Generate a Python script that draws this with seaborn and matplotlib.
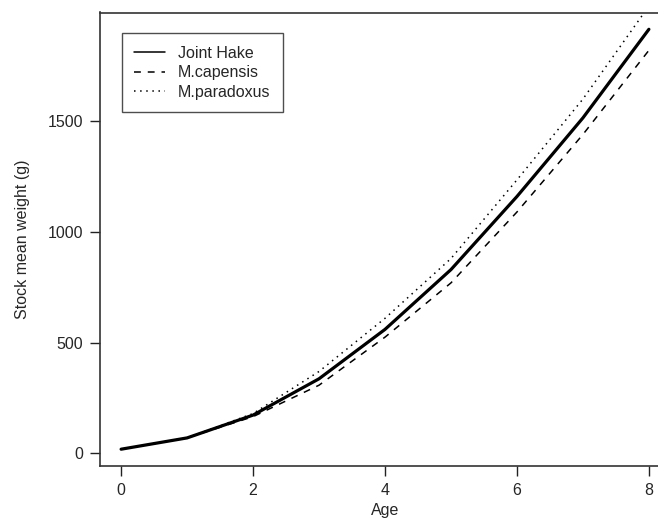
import numpy as np
import pandas as pd
import matplotlib
matplotlib.use("Agg")
import matplotlib.pyplot as plt
from matplotlib.lines import Line2D
import seaborn as sns

# values
ages = [0, 1, 2, 3, 4, 5, 6, 7, 8]
joint_hake = [19, 70, 173, 337, 560, 830, 1160, 1515, 1915]
m_capensis = [19, 70, 166, 308, 525, 770, 1090, 1440, 1820]
m_paradoxus = [19, 70, 180, 370, 610, 880, 1235, 1600, 2020]
series_names = ["Joint Hake", "M.capensis", "M.paradoxus"]

sns.set_theme(style="white")
plt.rcParams["font.family"] = ["Liberation Sans", "DejaVu Sans"]

df = pd.DataFrame({
    "Age": ages * 3,
    "weight": joint_hake + m_capensis + m_paradoxus,
    "series": np.repeat(series_names, len(ages)),
})

fig = plt.figure(figsize=(6.58, 5.22), dpi=100)
# R-style plot region; the right edge of the box falls just outside the picture
ax = fig.add_axes([100 / 658, 1 - 466 / 522, 570 / 658, 453.5 / 522])

styles = {
    "Joint Hake": dict(lw=2.3, ls="-"),
    "M.capensis": dict(lw=1.1, ls=(0, (4.5, 4.5))),
    "M.paradoxus": dict(lw=1.1, ls=(0, (1, 3))),
}
for name in series_names:
    sub = df[df["series"] == name]
    sns.lineplot(data=sub, x="Age", y="weight", ax=ax, color="black",
                 linewidth=styles[name]["lw"], linestyle=styles[name]["ls"],
                 legend=False)

# R default axis extension (4%), y range taken from the first series
xr = max(ages) - min(ages)
ax.set_xlim(min(ages) - 0.04 * xr, max(ages) + 0.04 * xr)
yr = max(joint_hake) - min(joint_hake)
ax.set_ylim(min(joint_hake) - 0.04 * yr, max(joint_hake) + 0.04 * yr)

ax.set_xticks([0, 2, 4, 6, 8])
ax.set_yticks([0, 500, 1000, 1500])
ax.tick_params(axis="both", direction="out", length=7, width=1, color="#222222",
               labelsize=11.5, pad=5, left=True, bottom=True)
for s in ax.spines.values():
    s.set_color("#333333")
    s.set_linewidth(1.2)

ax.set_xlabel("Age", fontsize=11.5, labelpad=4)
ax.set_ylabel("Stock mean weight (g)", fontsize=11.5, labelpad=13)

handles = [Line2D([0], [0], color="black", lw=1.1, ls=styles[n]["ls"]) for n in series_names]
leg = ax.legend(handles, series_names, loc="upper left", bbox_to_anchor=(0.038, 0.955),
                fontsize=11.5, frameon=True, fancybox=False, handlelength=1.9,
                handletextpad=0.8, borderpad=0.8, labelspacing=0.28, borderaxespad=0)
leg.get_frame().set_edgecolor("#222222")
leg.get_frame().set_linewidth(1.0)

fig.savefig("out.png", dpi=100)
